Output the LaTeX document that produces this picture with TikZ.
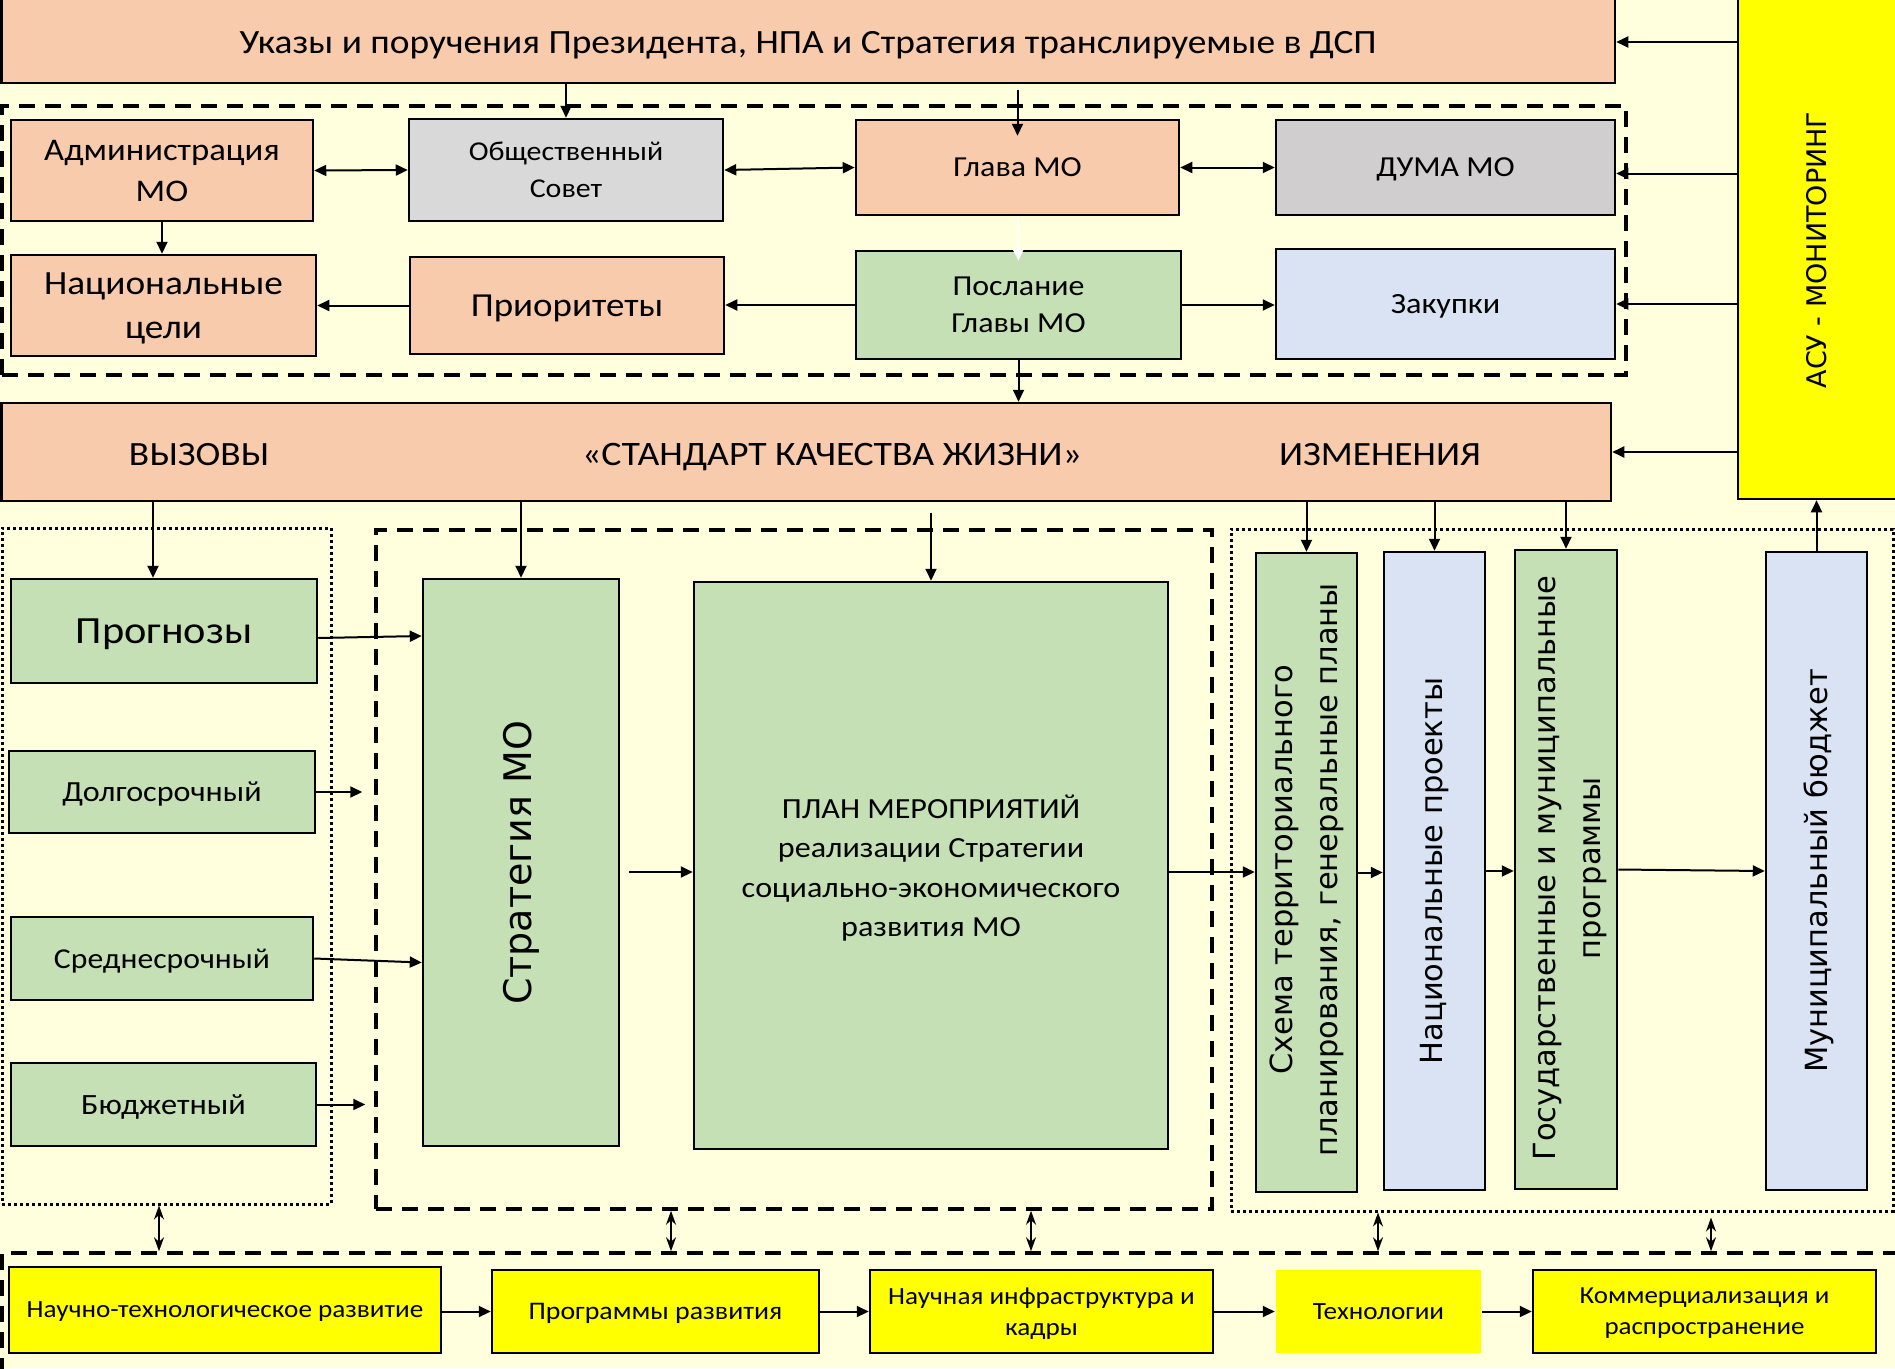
\documentclass[tikz,border=0pt]{standalone}
\usepackage{fontspec}
\setmainfont{Carlito}[FakeStretch=1.1]
\newfontfamily\vfont{DejaVu Sans}
\usetikzlibrary{arrows.meta,calc}
\definecolor{bg}{RGB}{255,255,221}
\definecolor{peach}{RGB}{248,203,173}
\definecolor{grayA}{RGB}{217,217,217}
\definecolor{grayB}{RGB}{208,206,206}
\definecolor{greenA}{RGB}{197,224,180}
\definecolor{blueA}{RGB}{218,227,243}
\definecolor{yell}{RGB}{255,255,0}
\newcommand\fs[2]{\fontsize{#1}{#2}\selectfont}
\newcommand\mkbox[7]{\node[bx,#6,minimum width={#4-#2},minimum height={#5-#3}] (#1) at ({(#2+#4)/2},{(#3+#5)/2}) {#7};}
\begin{document}
\begin{tikzpicture}[x=1pt,y=-1pt,
  bx/.style={draw=black,line width=2.5pt,align=center,inner sep=0pt,text depth=0pt},
  arr/.style={line width=2pt,-{Triangle[length=12pt,width=11pt]}},
  darr/.style={line width=2pt,{Triangle[length=12pt,width=11pt]}-{Triangle[length=12pt,width=11pt]}},
  sarr/.style={line width=1.8pt,{Stealth[length=14pt,width=10pt]}-{Stealth[length=14pt,width=10pt]}},
  dframe/.style={draw=black,line width=3.5pt,dash pattern=on 16pt off 10pt},
  dotframe/.style={draw=black,line width=3pt,dash pattern=on 3pt off 3pt},
  vt/.style={rotate=90,align=center,font=\vfont\fs{30.5}{45}}
]
\useasboundingbox (0,0) rectangle (1895,1368);
\clip (0,0) rectangle (1895,1368);
\fill[bg] (0,0) rectangle (1895,1368);

% frames
\mkbox{f1}{2}{106}{1626}{375}{dframe}{}
\mkbox{fl}{2}{528}{331}{1204}{dotframe}{}
\mkbox{fm}{376}{530}{1212}{1209}{dframe}{}
\mkbox{fr}{1231}{529}{1893}{1211}{dotframe}{}
\mkbox{fb}{2}{1253}{1920}{1420}{dframe}{}

% top
\mkbox{top}{1.5}{-3}{1615}{83}{fill=peach}{}
\node[font=\fs{34}{40},anchor=base] (topT) at (808,53) {Указы и поручения Президента, НПА и Стратегия транслируемые в ДСП};
\mkbox{asu}{1738}{-3}{1899}{499}{fill=yell}{}
\node[vt,font=\vfont\fs{27}{30}] (asuT) at (1817,250) {АСУ - МОНИТОРИНГ};

\mkbox{adm}{11}{120}{313}{221}{fill=peach,font=\fs{31.5}{41}}{Администрация\\МО}
\mkbox{obs}{409}{119}{723}{221}{fill=grayA,font=\fs{27.2}{37}}{Общественный\\Совет}
\mkbox{glava}{856}{120}{1179}{215}{fill=peach,font=\fs{29}{37}}{Глава МО}
\mkbox{duma}{1276}{120}{1615}{215}{fill=grayB,font=\fs{29}{37}}{ДУМА МО}
\mkbox{nc}{11}{255}{316}{356}{fill=peach,font=\fs{33.9}{44}}{Национальные\\цели}
\mkbox{prior}{410}{257}{724}{354}{fill=peach,font=\fs{33.6}{40}}{Приоритеты}
\mkbox{posl}{856}{251}{1181}{359}{fill=greenA,font=\fs{29}{37}}{Послание\\Главы МО}
\mkbox{zak}{1276}{249}{1615}{359}{fill=blueA,font=\fs{29.3}{37}}{Закупки}

\mkbox{std}{1.5}{403}{1611}{501}{fill=peach}{}
\node[font=\fs{34}{40},anchor=base] (s1) at (199,465) {ВЫЗОВЫ};
\node[font=\fs{34.3}{40},anchor=base] (s2) at (832,465) {«СТАНДАРТ КАЧЕСТВА ЖИЗНИ»};
\node[font=\fs{34}{40},anchor=base] (s3) at (1380,465) {ИЗМЕНЕНИЯ};

% left
\mkbox{prog}{11}{579}{317}{683}{fill=greenA,font=\fs{38.5}{44}}{Прогнозы}
\mkbox{dolg}{9}{751}{315}{833}{fill=greenA,font=\fs{29.2}{34}}{Долгосрочный}
\mkbox{sred}{11}{917}{313}{1000}{fill=greenA,font=\fs{28.8}{34}}{Среднесрочный}
\mkbox{budg}{11}{1063}{316}{1146}{fill=greenA,font=\fs{29.4}{34}}{Бюджетный}
\mkbox{strat}{423}{579}{619}{1146}{fill=greenA}{}
\node[vt,font=\vfont\fs{38}{44}] (stratT) at (521,863) {Стратегия МО};
\mkbox{plan}{694}{582}{1168}{1149}{fill=greenA,font=\fs{29.2}{39.5}}{ПЛАН МЕРОПРИЯТИЙ\\реализации Стратегии\\социально-экономического\\развития МО}

% right
\mkbox{skh}{1256}{553}{1357}{1192}{fill=greenA}{}
\node[vt] (skhT) at (1307,870) {Схема территориального\\планирования, генеральные планы};
\mkbox{np}{1384}{552}{1485}{1190}{fill=blueA}{}
\node[vt] (npT) at (1435,871) {Национальные проекты};
\mkbox{gos}{1515}{550}{1617}{1189}{fill=greenA}{}
\node[vt] (gosT) at (1570,868) {Государственные и муниципальные\\программы};
\mkbox{mun}{1766}{552}{1867}{1190}{fill=blueA}{}
\node[vt] (munT) at (1819,871) {Муниципальный бюджет};

% bottom
\mkbox{ntr}{9}{1267}{441}{1353}{fill=yell,font=\fs{24.7}{31}}{Научно-технологическое развитие}
\mkbox{pr}{492}{1270}{819}{1353}{fill=yell,font=\fs{25.3}{31}}{Программы развития}
\mkbox{ni}{870}{1270}{1213}{1353}{fill=yell,font=\fs{24.7}{31}}{Научная инфраструктура и\\кадры}
\mkbox{tech}{1276}{1270}{1481}{1353}{fill=yell,draw=none,font=\fs{24.7}{31}}{Технологии}
\mkbox{kom}{1533}{1270}{1876}{1353}{fill=yell,font=\fs{24.5}{31}}{Коммерциализация и\\распространение}

% arrows top area
\draw[arr] (top.south -| obs.north) -- (obs.north);
\coordinate (g1) at ($(glava.north)+(0,-29)$);
\draw[arr] (g1) -- ($(glava.north)+(0,17)$);
\draw[arr,white] (glava.south) -- ($(posl.north)+(0,11)$);
\draw[darr] (adm.east) -- (obs.west);
\draw[darr] (obs.east) -- (glava.west);
\draw[darr] (glava.east) -- (duma.west);
\draw[arr] (adm.south) -- (adm.south |- nc.north);
\draw[arr] (prior.west) -- (prior.west -| nc.east);
\draw[arr] (posl.west) -- (posl.west -| prior.east);
\draw[arr] (posl.east) -- (posl.east -| zak.west);
\draw[arr] (posl.south) -- (posl.south |- std.north);
\draw[arr] (asu.west |- topT.base) ++(0,-11) -- (top.east |- 0,42);
\draw[arr] ($(asu.west |- duma.east)+(0,6)$) -- ($(duma.east)+(0,6)$);
\draw[arr] (asu.west |- zak.east) -- (zak.east);
\draw[arr] (asu.west |- std.east) -- (std.east);

% middle arrows
\coordinate (xa) at (153,0);
\draw[arr] (std.south -| xa) -- (prog.north -| xa);
\draw[arr] (std.south -| strat.north) -- (strat.north);
\draw[arr] ($(plan.north)+(0,-68)$) -- (plan.north);
\draw[arr] (std.south -| skh.north) -- (skh.north);
\draw[arr] (std.south -| np.north) -- (np.north);
\draw[arr] (std.south -| gos.north) -- (gos.north);
\draw[arr] (mun.north) -- (mun.north |- asu.south);
\draw[arr] ($(prog.east)+(0,7)$) -- ($(prog.east -| strat.west)+(0,5)$);
\draw[arr] (dolg.east) -- ++(46,0);
\draw[arr] (sred.east) -- ($(sred.east -| strat.west)+(0,4)$);
\draw[arr] (budg.east) -- ++(48,0);
\coordinate (sp) at ($(strat.east)+(9,9.5)$);
\draw[arr] (sp) -- (sp -| plan.west);
\draw[arr] (plan.east |- sp) -- (skh.west |- sp);
\draw[arr] (skh.east) -- (skh.east -| np.west);
\draw[arr] (np.east) -- (np.east -| gos.west);
\draw[arr] (gos.east) -- (mun.west);

% vertical double arrows
\coordinate (v1) at (159,0);
\coordinate (v2) at (671,0);
\coordinate (v3) at (1031,0);
\coordinate (v4) at (1378,0);
\coordinate (v5) at (1711,0);
\draw[sarr] (fl.south -| v1) -- (fb.north -| v1);
\draw[sarr] (fm.south -| v2) -- (fb.north -| v2);
\draw[sarr] (fm.south -| v3) -- (fb.north -| v3);
\draw[sarr] (fr.south -| v4) -- (fb.north -| v4);
\draw[sarr] ($(fr.south -| v5)+(0,5)$) -- (fb.north -| v5);

% bottom arrows
\draw[arr] (pr.west -| ntr.east) -- (pr.west);
\draw[arr] (ni.west -| pr.east) -- (ni.west);
\draw[arr] (tech.west -| ni.east) -- (tech.west);
\draw[arr] (kom.west -| tech.east) -- (kom.west);
\end{tikzpicture}
\end{document}
